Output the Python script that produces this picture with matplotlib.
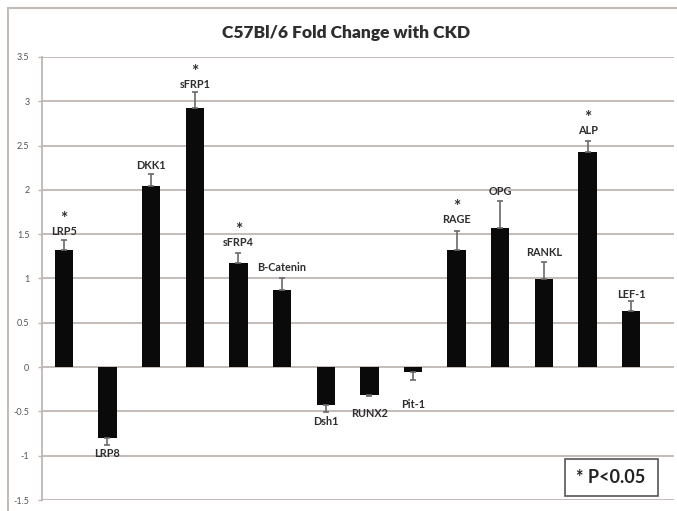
import matplotlib
matplotlib.use("Agg")
import matplotlib.pyplot as plt
from matplotlib.patches import Rectangle

plt.rcParams['font.family'] = ['Lato', 'DejaVu Sans']

genes = ["LRP5", "LRP8", "DKK1", "sFRP1", "sFRP4", "B-Catenin", "Dsh1", "RUNX2",
         "Pit-1", "RAGE", "OPG", "RANKL", "ALP", "LEF-1"]
fold_change = [1.32, -0.80, 2.04, 2.93, 1.17, 0.87, -0.43, -0.31,
               -0.05, 1.32, 1.57, 0.99, 2.43, 0.63]
error = [0.11, 0.08, 0.14, 0.18, 0.12, 0.14, 0.08, 0.02,
         0.10, 0.22, 0.31, 0.20, 0.12, 0.12]
significant = [True, False, False, True, True, False, False, False,
               False, True, False, False, True, False]
y_ticks = [-1.5, -1, -0.5, 0, 0.5, 1, 1.5, 2, 2.5, 3, 3.5]
y_tick_labels = ["-1.5", "-1", "-0.5", "0", "0.5", "1", "1.5", "2", "2.5", "3", "3.5"]
title = "C57Bl/6 Fold Change with CKD"
legend_text = "* P<0.05"

# layout: label distance from error-bar end
label_offset = [0.10, 0.09, 0.10, 0.08, 0.12, 0.11, 0.10, 0.19,
                0.27, 0.13, 0.10, 0.10, 0.12, 0.07]

W, H = 677, 511
fig = plt.figure(figsize=(W / 100, H / 100), dpi=100)
ax = fig.add_axes([42 / W, 1 - 500 / H, 632 / W, 443 / H])

grid_col = "#bfb6b2"
x = list(range(len(genes)))
ax.bar(x, fold_change, width=0.42, color="#0a0a0a", zorder=3)

for i, (v, e) in enumerate(zip(fold_change, error)):
    sgn = 1 if v >= 0 else -1
    end = v + sgn * e
    ax.errorbar([i], [v], yerr=[[e if sgn < 0 else 0], [e if sgn > 0 else 0]],
                fmt="none", ecolor="#6a6a6a", elinewidth=1.2, capsize=2.3,
                capthick=1.2, zorder=4)
    ly = end + sgn * label_offset[i]
    ax.text(i, ly, genes[i], ha="center", va="center", fontsize=7.8,
            fontweight="bold", color="#2e2e2e", zorder=5)
    if significant[i]:
        ax.text(i, ly + 0.14, "*", ha="center", va="center", fontsize=12.5,
                fontweight="bold", color="#2e2e2e", zorder=5)

ax.set_xlim(-0.5, 13.98)
ax.set_ylim(-1.5, 3.5)
ax.set_yticks(y_ticks)
ax.set_yticklabels(y_tick_labels)
ax.set_xticks([])
ax.tick_params(axis="y", length=3, width=1, color=grid_col, labelsize=6.5,
               labelcolor="#555555", pad=6)
ax.yaxis.grid(True, color=grid_col, linewidth=1.3, zorder=0)
ax.set_axisbelow(True)
for s in ["top", "right", "bottom"]:
    ax.spines[s].set_visible(False)
ax.spines["left"].set_color(grid_col)
ax.spines["left"].set_linewidth(1.3)

fig.text(346 / W, 1 - 33 / H, title, ha="center", va="center", fontsize=12.5,
         fontweight="heavy", color="#2e2e2e")

# outer chart frame
fig.patches.append(Rectangle((8 / W, -0.1), 1.0, 1.1 - 8 / H, transform=fig.transFigure,
                             fill=False, edgecolor="#c4bcb8", linewidth=1.5))

# legend box
fig.patches.append(Rectangle((565 / W, 1 - 496 / H), 93 / W, 37 / H,
                             transform=fig.transFigure, facecolor="white",
                             edgecolor="#555555", linewidth=1.2, zorder=5))
fig.text(611 / W, 1 - 477 / H, legend_text, ha="center", va="center",
         fontsize=13, fontweight="bold", color="#222222", zorder=6)

fig.savefig("out.png", dpi=100, facecolor="white")
